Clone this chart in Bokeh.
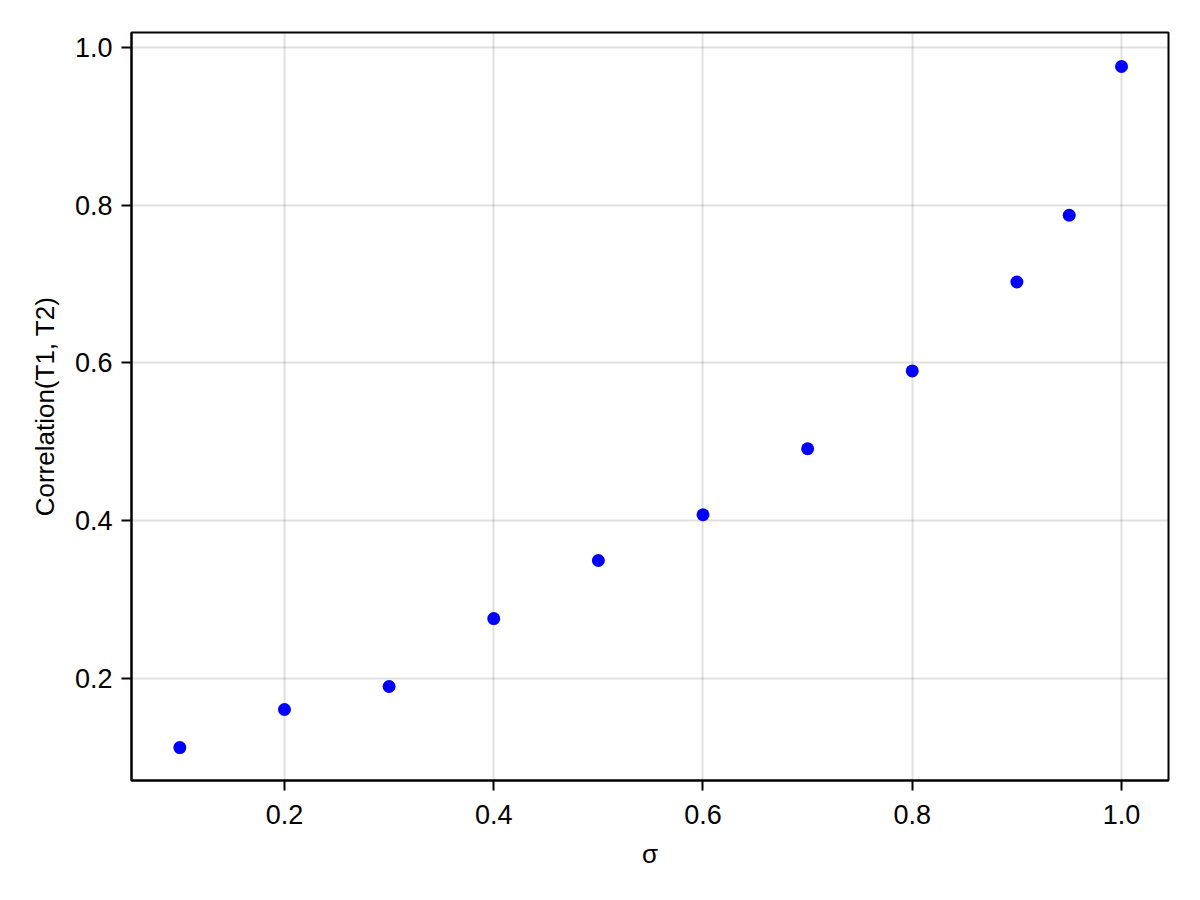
from bokeh.plotting import figure
from bokeh.models import Range1d, FixedTicker, PrintfTickFormatter
from bokeh.embed import file_html
from bokeh.resources import INLINE

sigma = [0.1, 0.2, 0.3, 0.4, 0.5, 0.6, 0.7, 0.8, 0.9, 0.95, 1.0]
correlation = [0.1125, 0.1607, 0.1899, 0.2760, 0.3496, 0.4076, 0.4913, 0.5899, 0.7027, 0.7873, 0.9759]
x_ticks = [0.2, 0.4, 0.6, 0.8, 1.0]
y_ticks = [0.2, 0.4, 0.6, 0.8, 1.0]

FONT = "Liberation Sans"

p = figure(width=1190, height=890, output_backend="svg", toolbar_location=None,
           x_range=Range1d(0.0538, 1.0449), y_range=Range1d(0.0707, 1.019),
           min_border_left=131, min_border_right=22, min_border_top=32, min_border_bottom=110)

p.scatter(sigma, correlation, size=13, color="blue", line_color=None)

p.xaxis.ticker = FixedTicker(ticks=x_ticks)
p.yaxis.ticker = FixedTicker(ticks=y_ticks)
p.xaxis.formatter = PrintfTickFormatter(format="%.1f")
p.yaxis.formatter = PrintfTickFormatter(format="%.1f")
p.xaxis.axis_label = "σ"
p.yaxis.axis_label = "Correlation(T1, T2)"

for ax in (p.xaxis, p.yaxis):
    ax.major_label_text_font = FONT
    ax.major_label_text_font_size = "27px"
    ax.major_label_text_color = "black"
    ax.axis_label_text_font = FONT
    ax.axis_label_text_font_size = "26px"
    ax.axis_label_text_font_style = "normal"
    ax.axis_label_text_color = "black"
    ax.major_tick_out = 10
    ax.major_tick_in = 0
    ax.minor_tick_line_color = None
    ax.major_tick_line_width = 2
    ax.axis_line_width = 2
    ax.axis_line_color = "black"
    ax.major_tick_line_color = "black"

p.xaxis.major_label_standoff = 14
p.xaxis.axis_label_standoff = 12
p.yaxis.major_label_standoff = 9
p.yaxis.axis_label_standoff = 12
p.yaxis.major_label_orientation = "horizontal"

p.outline_line_color = "black"
p.outline_line_width = 2
p.outline_line_alpha = 1.0
p.grid.grid_line_color = "black"
p.grid.grid_line_alpha = 0.12
p.grid.grid_line_width = 2

open("out.html", "w").write(file_html(p, INLINE))
